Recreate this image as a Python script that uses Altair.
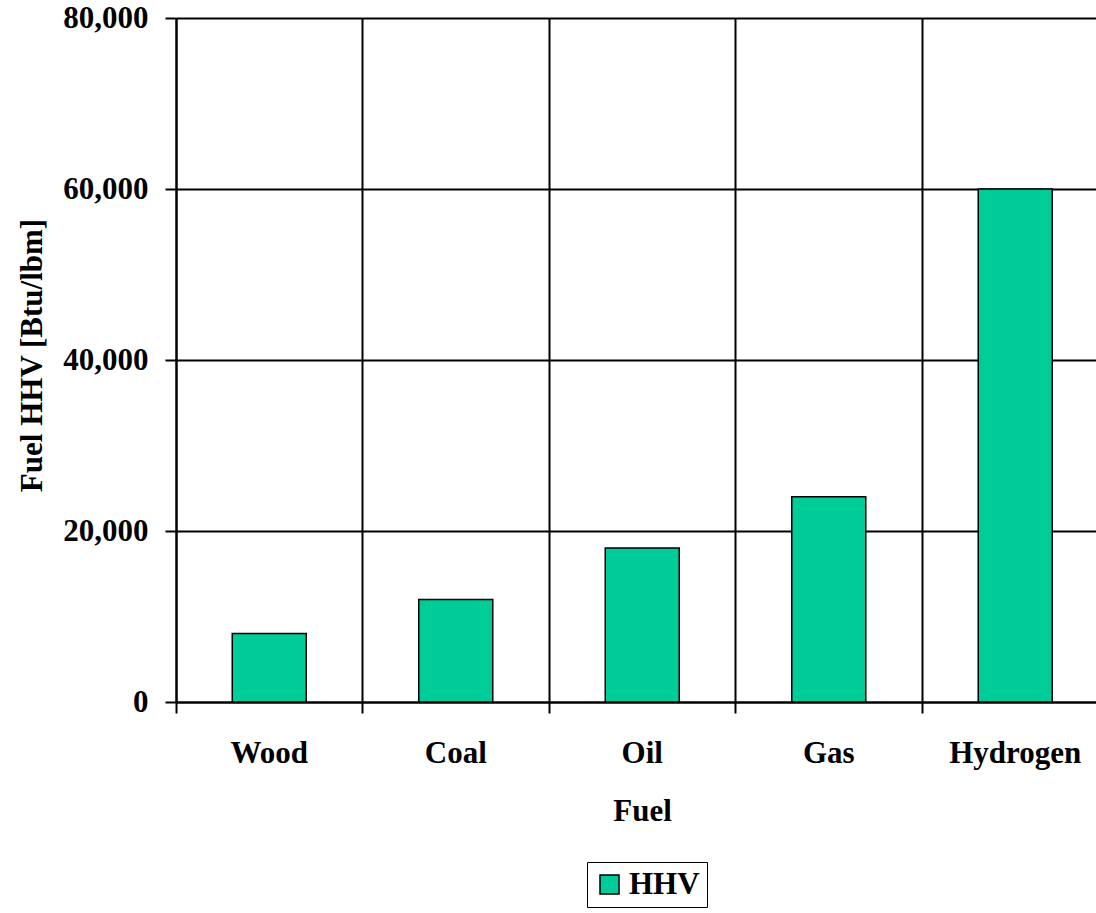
import altair as alt
import pandas as pd

# Higher heating value of common fuels
fuels = ["Wood", "Coal", "Oil", "Gas", "Hydrogen"]
hhv = [8000, 12000, 18000, 24000, 60000]
series = ["HHV"] * len(fuels)

df = pd.DataFrame({"Fuel": fuels, "HHV": hhv, "series": series})

FONT = "Liberation Serif"
GREEN = "#00CC99"

bars = alt.Chart(df).mark_bar(
    size=74, stroke="black", strokeWidth=1.5
).encode(
    x=alt.X(
        "Fuel:N",
        sort=fuels,
        scale=alt.Scale(range=[0, 932.5], paddingInner=0, paddingOuter=0),
        axis=alt.Axis(
            title="Fuel",
            bandPosition=0,
            grid=True,
            labelAngle=0,
            tickSize=11,
            tickWidth=2,
            tickColor="black",
            gridColor="black",
            gridWidth=2,
            gridOpacity=1,
            domainColor="black",
            domainWidth=2,
            labelPadding=49,
            labelBaseline="alphabetic",
            labelFont=FONT,
            labelFontSize=31,
            labelFontWeight="bold",
            labelColor="black",
            titleFont=FONT,
            titleFontSize=31,
            titleFontWeight="bold",
            titleColor="black",
            titleX=466,
            titleY=118,
            titleBaseline="alphabetic",
            titleAlign="center",
        ),
    ),
    y=alt.Y(
        "HHV:Q",
        scale=alt.Scale(domain=[0, 80000], nice=False),
        axis=alt.Axis(
            title="Fuel HHV [Btu/lbm]",
            values=[0, 20000, 40000, 60000, 80000],
            format=",d",
            tickSize=11,
            tickWidth=2,
            tickColor="black",
            gridColor="black",
            gridWidth=2,
            gridOpacity=1,
            domainColor="black",
            domainWidth=2,
            labelPadding=17,
            labelFont=FONT,
            labelFontSize=31,
            labelFontWeight="bold",
            labelColor="black",
            titleFont=FONT,
            titleFontSize=31,
            titleFontWeight="bold",
            titleColor="black",
            titleAngle=270,
            titleX=-144,
            titleY=337,
            titleAlign="center",
            titleBaseline="middle",
        ),
    ),
    color=alt.Color(
        "series:N",
        scale=alt.Scale(domain=["HHV"], range=[GREEN]),
        legend=alt.Legend(
            title=None,
            orient="none",
            legendX=411,
            legendY=844,
            padding=7,
            strokeColor="black",
            fillColor="white",
            symbolType="square",
            symbolSize=361,
            symbolStrokeColor="black",
            symbolStrokeWidth=1.5,
            symbolOpacity=1,
            labelOffset=4,
            labelFont=FONT,
            labelFontSize=31,
            labelFontWeight="bold",
            labelColor="black",
        ),
    ),
)

chart = bars.properties(
    width=920,
    height=684,
    autosize=alt.AutoSizeParams(type="none"),
    padding={"left": 176, "top": 18, "right": 0, "bottom": 211},
).configure_view(stroke=None).configure(background="white")

chart.save("out.html", embed_options={"renderer": "svg", "actions": False})
